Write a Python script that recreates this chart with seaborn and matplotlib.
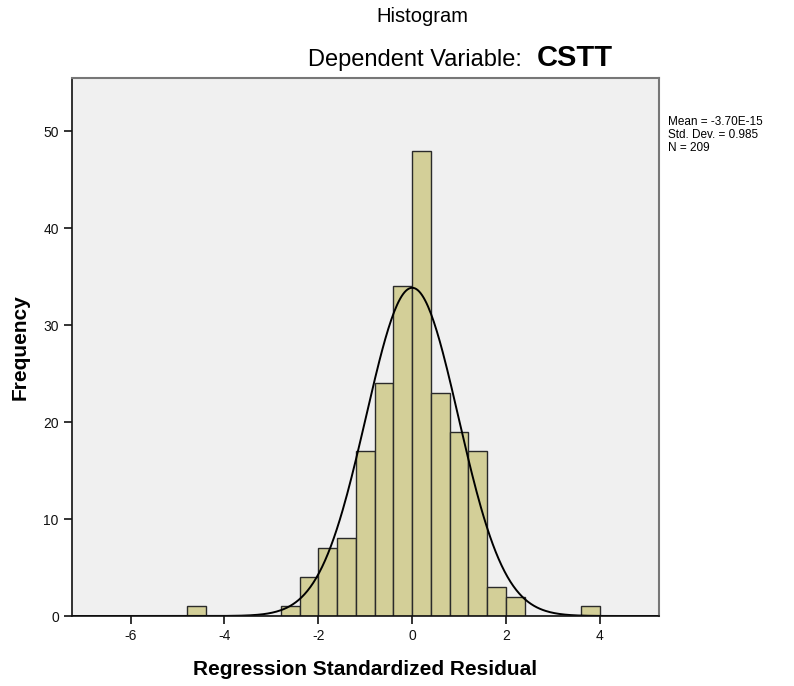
import numpy as np
import pandas as pd
import seaborn as sns
from matplotlib import pyplot as plt

# histogram bins (left edges, width 0.4) and frequencies
bin_left = [-4.8, -2.8, -2.4, -2.0, -1.6, -1.2, -0.8, -0.4, 0.0, 0.4, 0.8, 1.2, 1.6, 2.0, 3.6]
counts = [1, 1, 4, 7, 8, 17, 24, 34, 48, 23, 19, 17, 3, 2, 1]
bin_width = 0.4
mean, sd, n = -3.70e-15, 0.985, 209

sns.set_style('ticks')
plt.rcParams['font.family'] = ['Liberation Sans', 'DejaVu Sans']
plt.rcParams['axes.unicode_minus'] = False
plt.rcParams['text.color'] = 'black'

df = pd.DataFrame({'resid': np.array(bin_left) + bin_width / 2, 'freq': counts})

fig = plt.figure(figsize=(7.94, 6.86), dpi=100)
ax = fig.add_axes([72 / 794, 1 - 616 / 686, (659 - 72) / 794, (616 - 78) / 686])
ax.set_facecolor('#f0f0f0')

sns.histplot(data=df, x='resid', weights='freq', binwidth=bin_width, binrange=(-4.8, 4.0),
             ax=ax, color='#d3cf98', alpha=1, edgecolor='#2a2a2a', linewidth=1.0)

# fitted normal curve
xs = np.linspace(-7.25, 5.26, 400)
ys = n * bin_width / (sd * np.sqrt(2 * np.pi)) * np.exp(-0.5 * ((xs - mean) / sd) ** 2)
sns.lineplot(x=xs, y=ys, ax=ax, color='black', linewidth=1.4)

ax.set_xlim(-7.25, 5.26)
ax.set_ylim(0, 55.5)
ax.set_xticks([-6, -4, -2, 0, 2, 4])
ax.set_yticks([0, 10, 20, 30, 40, 50])
ax.tick_params(direction='out', length=6, width=1.2, labelsize=10, colors='#111111')
for s in ['left', 'bottom']:
    ax.spines[s].set_color('#111111')
    ax.spines[s].set_linewidth(1.2)
for s in ['top', 'right']:
    ax.spines[s].set_visible(True)
    ax.spines[s].set_color('#777777')
    ax.spines[s].set_linewidth(1.5)

ax.set_xlabel('Regression Standardized Residual', fontsize=15, fontweight='bold',
              labelpad=12, color='black')
ax.set_ylabel('Frequency', fontsize=15, fontweight='bold', labelpad=10, color='black')

fig.text(422 / 794, 1 - 17 / 686, 'Histogram', ha='center', va='center', fontsize=14.5)
fig.text(528 / 794, 1 - 60 / 686, 'Dependent Variable: ', ha='right', va='center', fontsize=17)
fig.text(537 / 794, 1 - 58 / 686, 'CSTT', ha='left', va='center', fontsize=21, fontweight='bold')

fig.text(668 / 794, 1 - 116 / 686,
         'Mean = -3.70E-15\nStd. Dev. = 0.985\nN = 209',
         ha='left', va='top', fontsize=8.5, linespacing=1.12)

fig.savefig('out.png', dpi=100)
